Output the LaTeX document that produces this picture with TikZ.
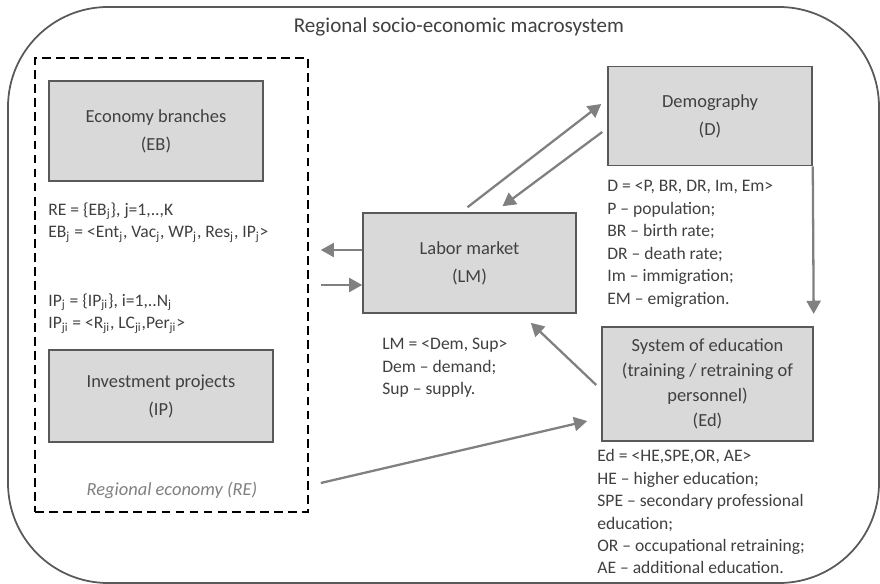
\documentclass[tikz,border=0pt]{standalone}
\usepackage{fontspec}
\setmainfont{Carlito}
\usepackage{xcolor}
\usepackage{tikz}
\usetikzlibrary{arrows.meta,positioning,calc}

\definecolor{boxfill}{HTML}{D9D9D9}
\definecolor{boxline}{HTML}{595959}
\definecolor{arrowgray}{HTML}{808080}
\definecolor{textgray}{HTML}{404040}
\newcommand{\lo}[1]{\textsubscript{#1}}

\begin{document}
\begin{tikzpicture}[
    x=0.02cm, y=-0.02cm,
    font=\fontsize{10.5}{16}\selectfont,
    text=textgray,
    sysbox/.style={rectangle, draw=boxline, fill=boxfill, line width=0.9pt, align=center, inner sep=2pt},
    note/.style={anchor=north west, align=left, inner sep=0pt, font=\fontsize{10}{12.8}\selectfont},
    arrow/.style={-{Triangle[length=7.5pt,width=8pt]}, line width=1.3pt, draw=arrowgray}
]
    \useasboundingbox (0,0) rectangle (880,584);
    \draw[draw=boxline, line width=1pt, rounded corners=2cm] (8,7) rectangle (879,583);
    \node (title) at (459,27) {\fontsize{12}{14}\selectfont Regional socio-economic macrosystem};

    % regional economy
    \node (re) [draw=black, line width=0.9pt, dash pattern=on 5pt off 3pt, minimum width=5.46cm, minimum height=9.08cm] at (171.5,285) {};
    \node (eb) [sysbox, minimum width=4.28cm, minimum height=2cm] at (156,131) {Economy branches\\(EB)};
    \node (renote) [note] at (48,202) {RE = \{EB\lo{j}\}, j=1,..,K\\EB\lo{j} = <Ent\lo{j}, Vac\lo{j}, WP\lo{j}, Res\lo{j}, IP\lo{j}>};
    \node (ipnote) [note] at (48,293) {IP\lo{j} = \{IP\lo{ji}\}, i=1,..N\lo{j}\\IP\lo{ji} = <R\lo{ji}, LC\lo{ji},Per\lo{ji}>};
    \node (ip) [sysbox, minimum width=4.48cm, minimum height=1.84cm] at (161,396) {Investment projects\\(IP)};
    \node (relabel) [text=arrowgray, font=\fontsize{10.5}{13}\selectfont\itshape] at (172,490) {Regional economy (RE)};

    % labor market, demography, education
    \node (lm) [sysbox, minimum width=4.26cm, minimum height=2cm] at (469.5,263) {Labor market\\(LM)};
    \node (lmnote) [note] at (382,338) {LM = <Dem, Sup>\\Dem -- demand;\\Sup -- supply.};
    \node (dem) [sysbox, minimum width=4.08cm, minimum height=1.98cm] at (710,116) {Demography\\(D)};
    \node (demnote) [note] at (607,180) {D = <P, BR, DR, Im, Em>\\P -- population;\\BR -- birth rate;\\DR -- death rate;\\Im -- immigration;\\EM -- emigration.};
    \node (ed) [sysbox, minimum width=4.22cm, minimum height=2.28cm, font=\fontsize{10.5}{14.2}\selectfont] at (707.5,384) {System of education\\(training / retraining of\\personnel)\\(Ed)};
    \node (ednote) [note] at (597,449) {Ed = <HE,SPE,OR, AE>\\HE -- higher education;\\SPE -- secondary professional\\education;\\OR -- occupational retraining;\\AE -- additional education.};

    \draw [arrow] ($(lm.west)+(0,-13)$) -- ($(re.east)+(12,-35)$);
    \draw [arrow] ($(re.east)+(12,0)$) -- ($(lm.west)+(0,22)$);
    \draw [arrow] ($(lm.north)+(-2,-5)$) -- ($(dem.west)+(-6,-12)$);
    \draw [arrow] ($(dem.west)+(-5,16)$) -- ($(lm.north)+(33,-6)$);
    \draw [arrow, shorten >=7pt] (dem.south east) -- (ed.north east);
    \draw [arrow] ($(ed.west)+(-5,1)$) -- ($(lm.south east)+(-46,9)$);
    \draw [arrow] ($(re.east)+(12,198)$) -- ($(ed.west)+(-14,37)$);
\end{tikzpicture}
\end{document}
